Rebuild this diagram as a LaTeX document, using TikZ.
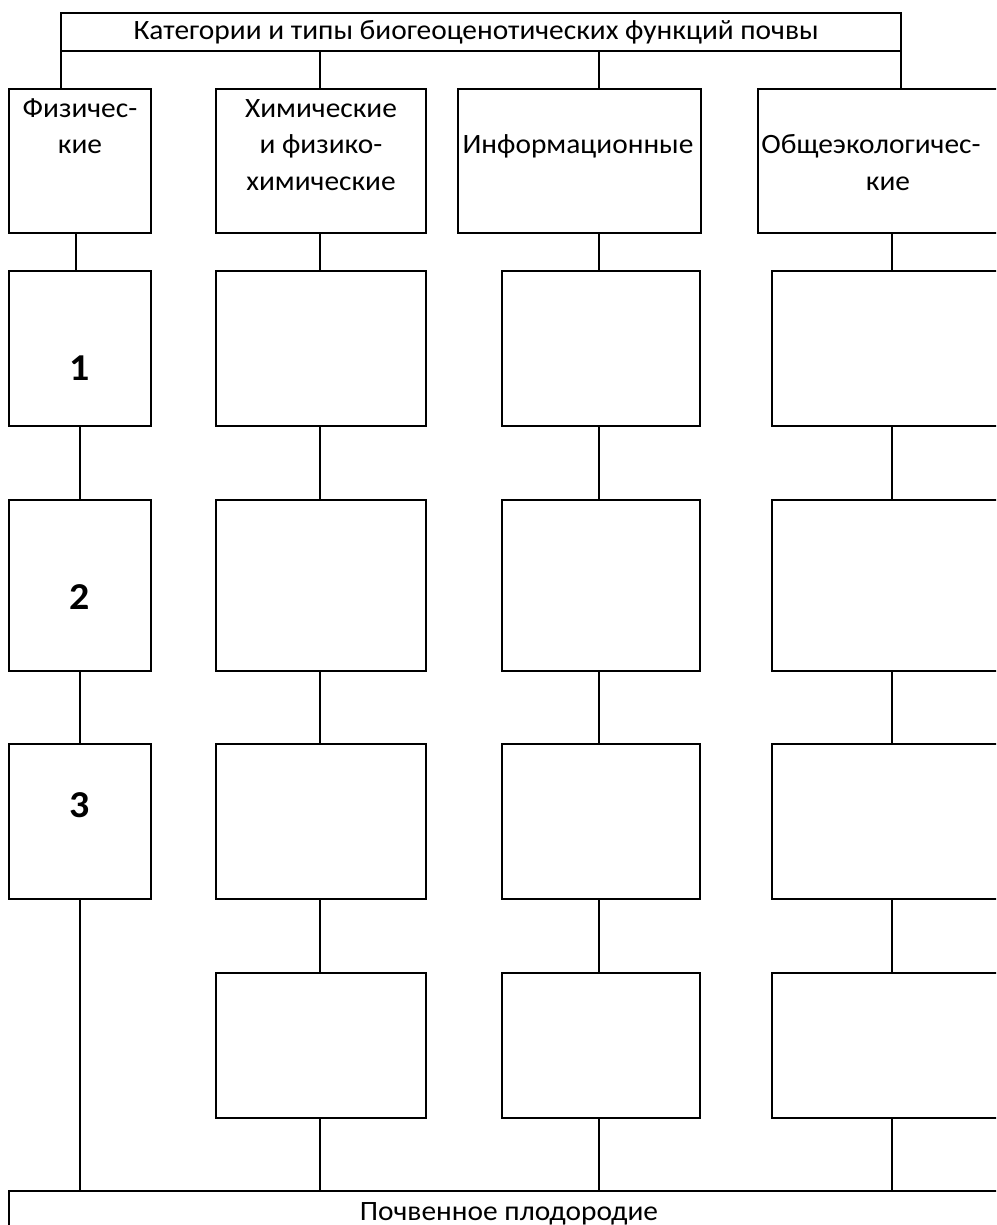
\documentclass[tikz,border=0pt]{standalone}
\usepackage{fontspec}
\setmainfont{Carlito}[FakeStretch=1.05]
\begin{document}
\begin{tikzpicture}[x=1pt,y=-1pt,
  bx/.style={draw=black,line width=2.2pt,fill=white,inner sep=0pt,outer sep=0pt,anchor=north west},
  ln/.style={draw=black,line width=2.2pt},
  lbl/.style={anchor=base,inner sep=0pt,font=\fontsize{28}{32}\selectfont},
  num/.style={anchor=base,inner sep=0pt,font=\fontsize{38}{42}\selectfont\bfseries}]
\useasboundingbox (0,0) rectangle (996,1225);
\clip (0,0) rectangle (996,1225);
% boxes
\node[bx,minimum width=840pt,minimum height=38pt] (top) at (61,13) {};
\node[bx,minimum width=142pt,minimum height=144pt] (h1) at (9,89) {};
\node[bx,minimum width=210pt,minimum height=144pt] (h2) at (216,89) {};
\node[bx,minimum width=243pt,minimum height=144pt] (h3) at (458,89) {};
\node[bx,minimum width=262pt,minimum height=144pt] (h4) at (758,89) {};
\foreach \r/\y/\h in {a/271/155,b/500/171,c/744/155,d/973/145}{
  \node[bx,minimum width=210pt,minimum height=\h pt] (\r2) at (216,\y) {};
  \node[bx,minimum width=198pt,minimum height=\h pt] (\r3) at (502,\y) {};
  \node[bx,minimum width=248pt,minimum height=\h pt] (\r4) at (772,\y) {};
}
\node[bx,minimum width=142pt,minimum height=155pt] (a1) at (9,271) {};
\node[bx,minimum width=142pt,minimum height=171pt] (b1) at (9,500) {};
\node[bx,minimum width=142pt,minimum height=155pt] (c1) at (9,744) {};
\node[bx,minimum width=1010pt,minimum height=60pt] (bot) at (9,1191) {};
% column x positions
\coordinate (x1) at (80,0);
\coordinate (x1a) at (76,0);
\coordinate (x2) at (320,0);
\coordinate (x3) at (599,0);
\coordinate (x4) at (892,0);
% connectors from the title
\draw[ln] (top.south west) -- (top.south west |- h1.north);
\draw[ln] (top.south -| x2) -- (h2.north -| x2);
\draw[ln] (top.south -| x3) -- (h3.north -| x3);
\draw[ln] (top.south east) -- (top.south east |- h4.north);
% column 1
\draw[ln] (h1.south -| x1a) -- (a1.north -| x1a);
\draw[ln] (a1.south -| x1) -- (b1.north -| x1);
\draw[ln] (b1.south -| x1) -- (c1.north -| x1);
\draw[ln] (c1.south -| x1) -- (bot.north -| x1);
% columns 2-4
\foreach \c in {2,3,4}{
  \draw[ln] (h\c.south -| x\c) -- (a\c.north -| x\c);
  \draw[ln] (a\c.south -| x\c) -- (b\c.north -| x\c);
  \draw[ln] (b\c.south -| x\c) -- (c\c.north -| x\c);
  \draw[ln] (c\c.south -| x\c) -- (d\c.north -| x\c);
  \draw[ln] (d\c.south -| x\c) -- (bot.north -| x\c);
}
% texts
\node[lbl] (tt) at (476,40) {Категории и типы биогеоценотических функций почвы};
\node[lbl] (h1a) at (80,118) {Физичес-};
\node[lbl] (h1b) at (80,154) {кие};
\node[lbl] (h2a) at (321,118) {Химические};
\node[lbl] (h2b) at (321,154) {и физико-};
\node[lbl] (h2c) at (321,190) {химические};
\node[lbl] (h3a) at (578,154) {Информационные};
\node[lbl] (h4a) at (871,154) {Общеэкологичес-};
\node[lbl] (h4b) at (888,190) {кие};
\node[num] (n1) at (79.5,380) {1};
\node[num] (n2) at (79.5,609) {2};
\node[num] (n3) at (79.5,817) {3};
\node[lbl] (bt) at (509,1220) {Почвенное плодородие};
\end{tikzpicture}
\end{document}
